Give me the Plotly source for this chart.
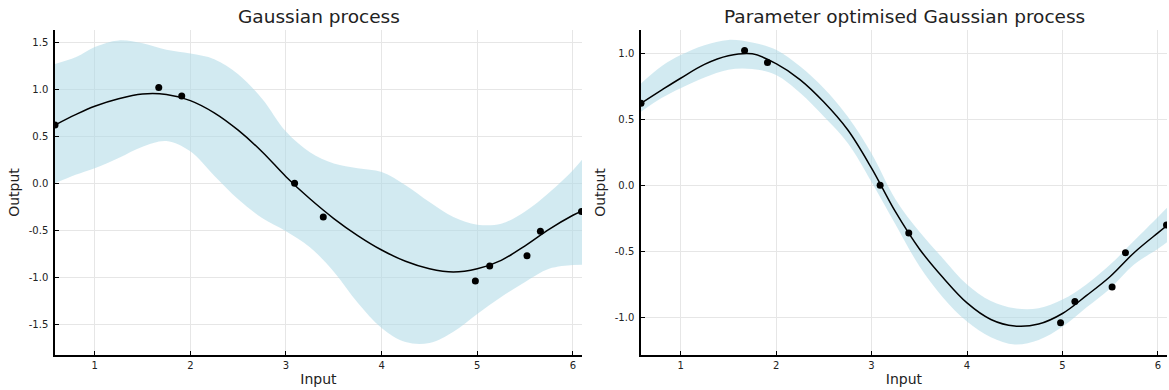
import plotly.graph_objects as go

# ---- data ----
obs_x = [0.585, 1.67, 1.91, 3.09, 3.39, 4.98, 5.13, 5.52, 5.66, 6.09]
obs_y = [0.62, 1.02, 0.93, 0.0, -0.36, -1.04, -0.88, -0.77, -0.51, -0.30]

grid_x = [0.585, 0.8, 1.0, 1.25, 1.5, 1.75, 2.0, 2.25, 2.5, 2.75, 3.0, 3.25,
          3.5, 3.75, 4.0, 4.25, 4.5, 4.75, 5.0, 5.25, 5.5, 5.75, 6.0, 6.095]

# Left: Gaussian process (default hyperparameters)
gp_mean = [0.62, 0.73, 0.82, 0.90, 0.95, 0.945, 0.88, 0.75, 0.565, 0.336, 0.07, -0.165,
           -0.375, -0.556, -0.71, -0.83, -0.91, -0.945, -0.91, -0.82, -0.665, -0.49, -0.34, -0.293]
gp_upper = [1.27, 1.34, 1.45, 1.52, 1.49, 1.42, 1.38, 1.32, 1.16, 0.90, 0.55, 0.33,
            0.21, 0.16, 0.12, -0.02, -0.20, -0.36, -0.44, -0.43, -0.30, -0.10, 0.14, 0.25]
gp_lower = [0.0, 0.09, 0.16, 0.27, 0.39, 0.45, 0.34, 0.08, -0.17, -0.37, -0.51, -0.68,
            -0.94, -1.27, -1.54, -1.69, -1.70, -1.58, -1.39, -1.21, -1.05, -0.91, -0.87, -0.866]

# Right: parameter optimised Gaussian process
opt_mean = [0.62, 0.72, 0.81, 0.915, 0.98, 0.995, 0.92, 0.80, 0.63, 0.42, 0.13, -0.20,
            -0.48, -0.70, -0.89, -1.015, -1.065, -1.05, -0.97, -0.835, -0.69, -0.51, -0.36, -0.305]
opt_upper = [0.77, 0.90, 0.985, 1.06, 1.10, 1.08, 1.025, 0.90, 0.734, 0.52, 0.24, -0.105,
             -0.35, -0.555, -0.75, -0.875, -0.93, -0.93, -0.865, -0.75, -0.60, -0.42, -0.24, -0.17]
opt_lower = [0.557, 0.66, 0.734, 0.815, 0.875, 0.88, 0.835, 0.70, 0.52, 0.32, 0.025, -0.295,
             -0.61, -0.85, -1.03, -1.15, -1.205, -1.17, -1.07, -0.925, -0.78, -0.60, -0.48, -0.43]

x_ticks = [1, 2, 3, 4, 5, 6]
x_labels = ["1", "2", "3", "4", "5", "6"]
left_y_ticks = [-1.5, -1.0, -0.5, 0.0, 0.5, 1.0, 1.5]
left_y_labels = ["-1.5", "-1.0", "-0.5", "0.0", "0.5", "1.0", "1.5"]
right_y_ticks = [-1.0, -0.5, 0.0, 0.5, 1.0]
right_y_labels = ["-1.0", "-0.5", "0.0", "0.5", "1.0"]

titles = ["Gaussian process", "Parameter optimised Gaussian process"]

W, H = 1169, 390
FONT = "DejaVu Sans"
BAND = "rgba(173,216,230,0.55)"

fig = go.Figure()

def add_panel(xa, ya, mean, upper, lower):
    fig.add_trace(go.Scatter(x=grid_x, y=lower, mode="lines", line=dict(width=0, shape="spline"),
                             hoverinfo="skip", showlegend=False, xaxis=xa, yaxis=ya))
    fig.add_trace(go.Scatter(x=grid_x, y=upper, mode="lines", line=dict(width=0, shape="spline"),
                             fill="tonexty", fillcolor=BAND, hoverinfo="skip", showlegend=False,
                             xaxis=xa, yaxis=ya))
    fig.add_trace(go.Scatter(x=grid_x, y=mean, mode="lines", line=dict(color="black", width=1.5, shape="spline"),
                             showlegend=False, xaxis=xa, yaxis=ya))
    fig.add_trace(go.Scatter(x=obs_x, y=obs_y, mode="markers",
                             marker=dict(color="black", size=7, line=dict(width=0)),
                             showlegend=False, xaxis=xa, yaxis=ya))

add_panel("x", "y", gp_mean, gp_upper, gp_lower)
add_panel("x2", "y2", opt_mean, opt_upper, opt_lower)

common_ax = dict(showline=True, linecolor="black", linewidth=1.5, mirror=False,
                 ticks="inside", ticklen=4, tickwidth=1, tickcolor="black",
                 showgrid=True, gridcolor="#e6e6e6", gridwidth=1, zeroline=False,
                 tickfont=dict(family=FONT, size=10, color="#222"))

xdom1 = [55 / W, 582 / W]
xdom2 = [641 / W, 1167 / W]

fig.update_layout(
    width=W, height=H,
    margin=dict(l=0, r=0, t=30, b=35),
    plot_bgcolor="white", paper_bgcolor="white",
    font=dict(family=FONT, color="#222"),
    xaxis=dict(domain=xdom1, range=[0.585, 6.095], tickvals=x_ticks, ticktext=x_labels,
               title=dict(text="Input", font=dict(size=14), standoff=4), anchor="y", **common_ax),
    yaxis=dict(domain=[0, 1], range=[-1.827, 1.631], tickvals=left_y_ticks, ticktext=left_y_labels,
               title=dict(text="Output", font=dict(size=14), standoff=6), anchor="x",
               ticklabelstandoff=3, **common_ax),
    xaxis2=dict(domain=xdom2, range=[0.585, 6.095], tickvals=x_ticks, ticktext=x_labels,
                title=dict(text="Input", font=dict(size=14), standoff=4), anchor="y2", **common_ax),
    yaxis2=dict(domain=[0, 1], range=[-1.284, 1.175], tickvals=right_y_ticks, ticktext=right_y_labels,
                title=dict(text="Output", font=dict(size=14), standoff=6), anchor="x2",
                ticklabelstandoff=3, **common_ax),
)

for dom, t in zip([xdom1, xdom2], titles):
    fig.add_annotation(text=t, xref="paper", yref="paper", x=(dom[0] + dom[1]) / 2,
                       y=1 + 14 / 325, yanchor="middle", xanchor="center", showarrow=False,
                       font=dict(family=FONT, size=18.5, color="#222"))

fig.write_html("out.html", config={"displayModeBar": False},
               post_script="document.body.style.margin='0px';")
